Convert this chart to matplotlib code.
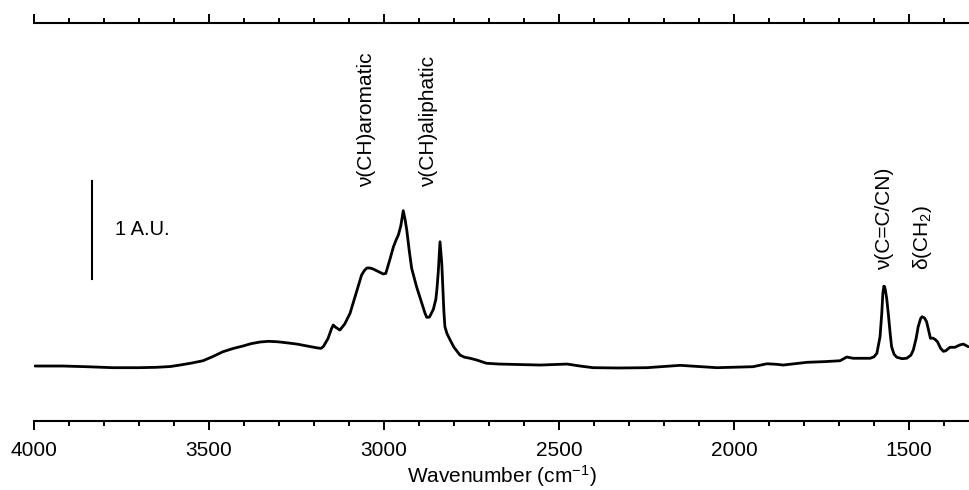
import matplotlib
matplotlib.use("Agg")
import matplotlib.pyplot as plt
from matplotlib.ticker import MultipleLocator

plt.rcParams['font.family'] = ['Liberation Sans', 'DejaVu Sans']
plt.rcParams['mathtext.fontset'] = 'custom'
plt.rcParams['mathtext.rm'] = 'Liberation Sans'
plt.rcParams['mathtext.it'] = 'Liberation Sans:italic'

# FTIR spectrum: wavenumber (cm^-1) and absorbance (A.U., baseline at 0)
wavenumber = [3997, 3917, 3850, 3774, 3700, 3649, 3610, 3583, 3550, 3517,
              3490, 3460, 3430, 3403, 3380, 3354, 3330, 3306, 3280, 3249,
              3220, 3191, 3180, 3173, 3160, 3150, 3145, 3138, 3126, 3112,
              3097, 3080, 3064, 3056, 3049, 3040, 3031, 3015, 3002, 2995,
              2992, 2983, 2973, 2965, 2959, 2952, 2945, 2940, 2935, 2928,
              2921, 2907, 2892, 2883, 2878, 2870, 2859, 2852, 2849, 2845,
              2842, 2840, 2838, 2835, 2832, 2829, 2826, 2820, 2811, 2800,
              2783, 2770, 2754, 2735, 2707, 2670, 2631, 2554, 2477, 2440,
              2403, 2330, 2249, 2154, 2100, 2049, 1946, 1906, 1880, 1860,
              1791, 1740, 1697, 1678, 1660, 1611, 1600, 1592, 1583, 1578,
              1575, 1572, 1570, 1568, 1564, 1559, 1554, 1550, 1543, 1535,
              1520, 1507, 1495, 1488, 1480, 1474, 1467, 1463, 1456, 1450,
              1444, 1439, 1432, 1426, 1419, 1410, 1402, 1395, 1389, 1383,
              1369, 1355, 1345, 1331]
absorbance = [0.000, 0.000, -0.007, -0.017, -0.017, -0.013, -0.005, 0.010, 0.030, 0.054,
              0.095, 0.146, 0.180, 0.204, 0.228, 0.245, 0.252, 0.248, 0.238, 0.224,
              0.205, 0.185, 0.180, 0.200, 0.280, 0.380, 0.418, 0.395, 0.367, 0.430,
              0.538, 0.740, 0.929, 0.975, 1.000, 1.000, 0.990, 0.962, 0.939, 0.945,
              0.980, 1.090, 1.217, 1.290, 1.337, 1.430, 1.585, 1.500, 1.388, 1.180,
              0.997, 0.809, 0.640, 0.540, 0.497, 0.500, 0.579, 0.680, 0.776, 0.960,
              1.150, 1.268, 1.180, 1.050, 0.800, 0.560, 0.401, 0.330, 0.265, 0.190,
              0.112, 0.090, 0.079, 0.061, 0.028, 0.020, 0.017, 0.010, 0.020, 0.000,
              -0.017, -0.020, -0.017, 0.007, -0.005, -0.017, -0.007, 0.023, 0.018, 0.010,
              0.038, 0.045, 0.054, 0.092, 0.079, 0.079, 0.095, 0.130, 0.299, 0.540,
              0.740, 0.815, 0.810, 0.780, 0.690, 0.520, 0.330, 0.197, 0.120, 0.089,
              0.075, 0.079, 0.110, 0.163, 0.280, 0.401, 0.485, 0.503, 0.490, 0.452,
              0.360, 0.283, 0.285, 0.272, 0.248, 0.181, 0.150, 0.156, 0.175, 0.191,
              0.191, 0.215, 0.224, 0.197]

# Band assignments: (label, wavenumber, absorbance at label base)
band_labels = ['ν(CH)aromatic', 'ν(CH)aliphatic', 'ν(C=C/CN)', 'δ(CH$_2$)']
band_positions = [3051, 2873, 1569, 1463]
band_heights = [1.83, 1.83, 0.98, 0.98]

scale_bar_value = 1.0  # A.U.

fig = plt.figure(figsize=(9.7, 4.9), dpi=100)
ax = fig.add_axes([0.035, 0.1414, 0.965, 0.8123])

ax.plot(wavenumber, absorbance, color='black', lw=2.0,
        solid_joinstyle='round', solid_capstyle='round')

ax.set_xlim(4000, 1326)
ax.set_ylim(-0.558, 3.503)

for side in ('left', 'right'):
    ax.spines[side].set_visible(False)
for side in ('top', 'bottom'):
    ax.spines[side].set_linewidth(1.5)

ax.xaxis.set_major_locator(MultipleLocator(500))
ax.xaxis.set_minor_locator(MultipleLocator(100))
ax.tick_params(axis='x', which='both', direction='out', top=True, labeltop=False,
               width=1.4, labelsize=15, pad=8)
ax.tick_params(axis='x', which='major', length=6.5)
ax.tick_params(axis='x', which='minor', length=3.6)
ax.set_yticks([])
ax.set_xlabel('Wavenumber (cm$^{-1}$)', fontsize=15, labelpad=2.5)

for lab, wn, h in zip(band_labels, band_positions, band_heights):
    ax.text(wn, h, lab, rotation=90, ha='center', va='bottom', fontsize=15)

# Intensity scale bar
bar_x = 3834
bar_y0 = 0.888
ax.plot([bar_x, bar_x], [bar_y0, bar_y0 + scale_bar_value], color='black', lw=1.5)
ax.text(3769, bar_y0 + scale_bar_value / 2, '1 A.U.', ha='left', va='center', fontsize=14.5)

fig.savefig('out.png', dpi=100)
